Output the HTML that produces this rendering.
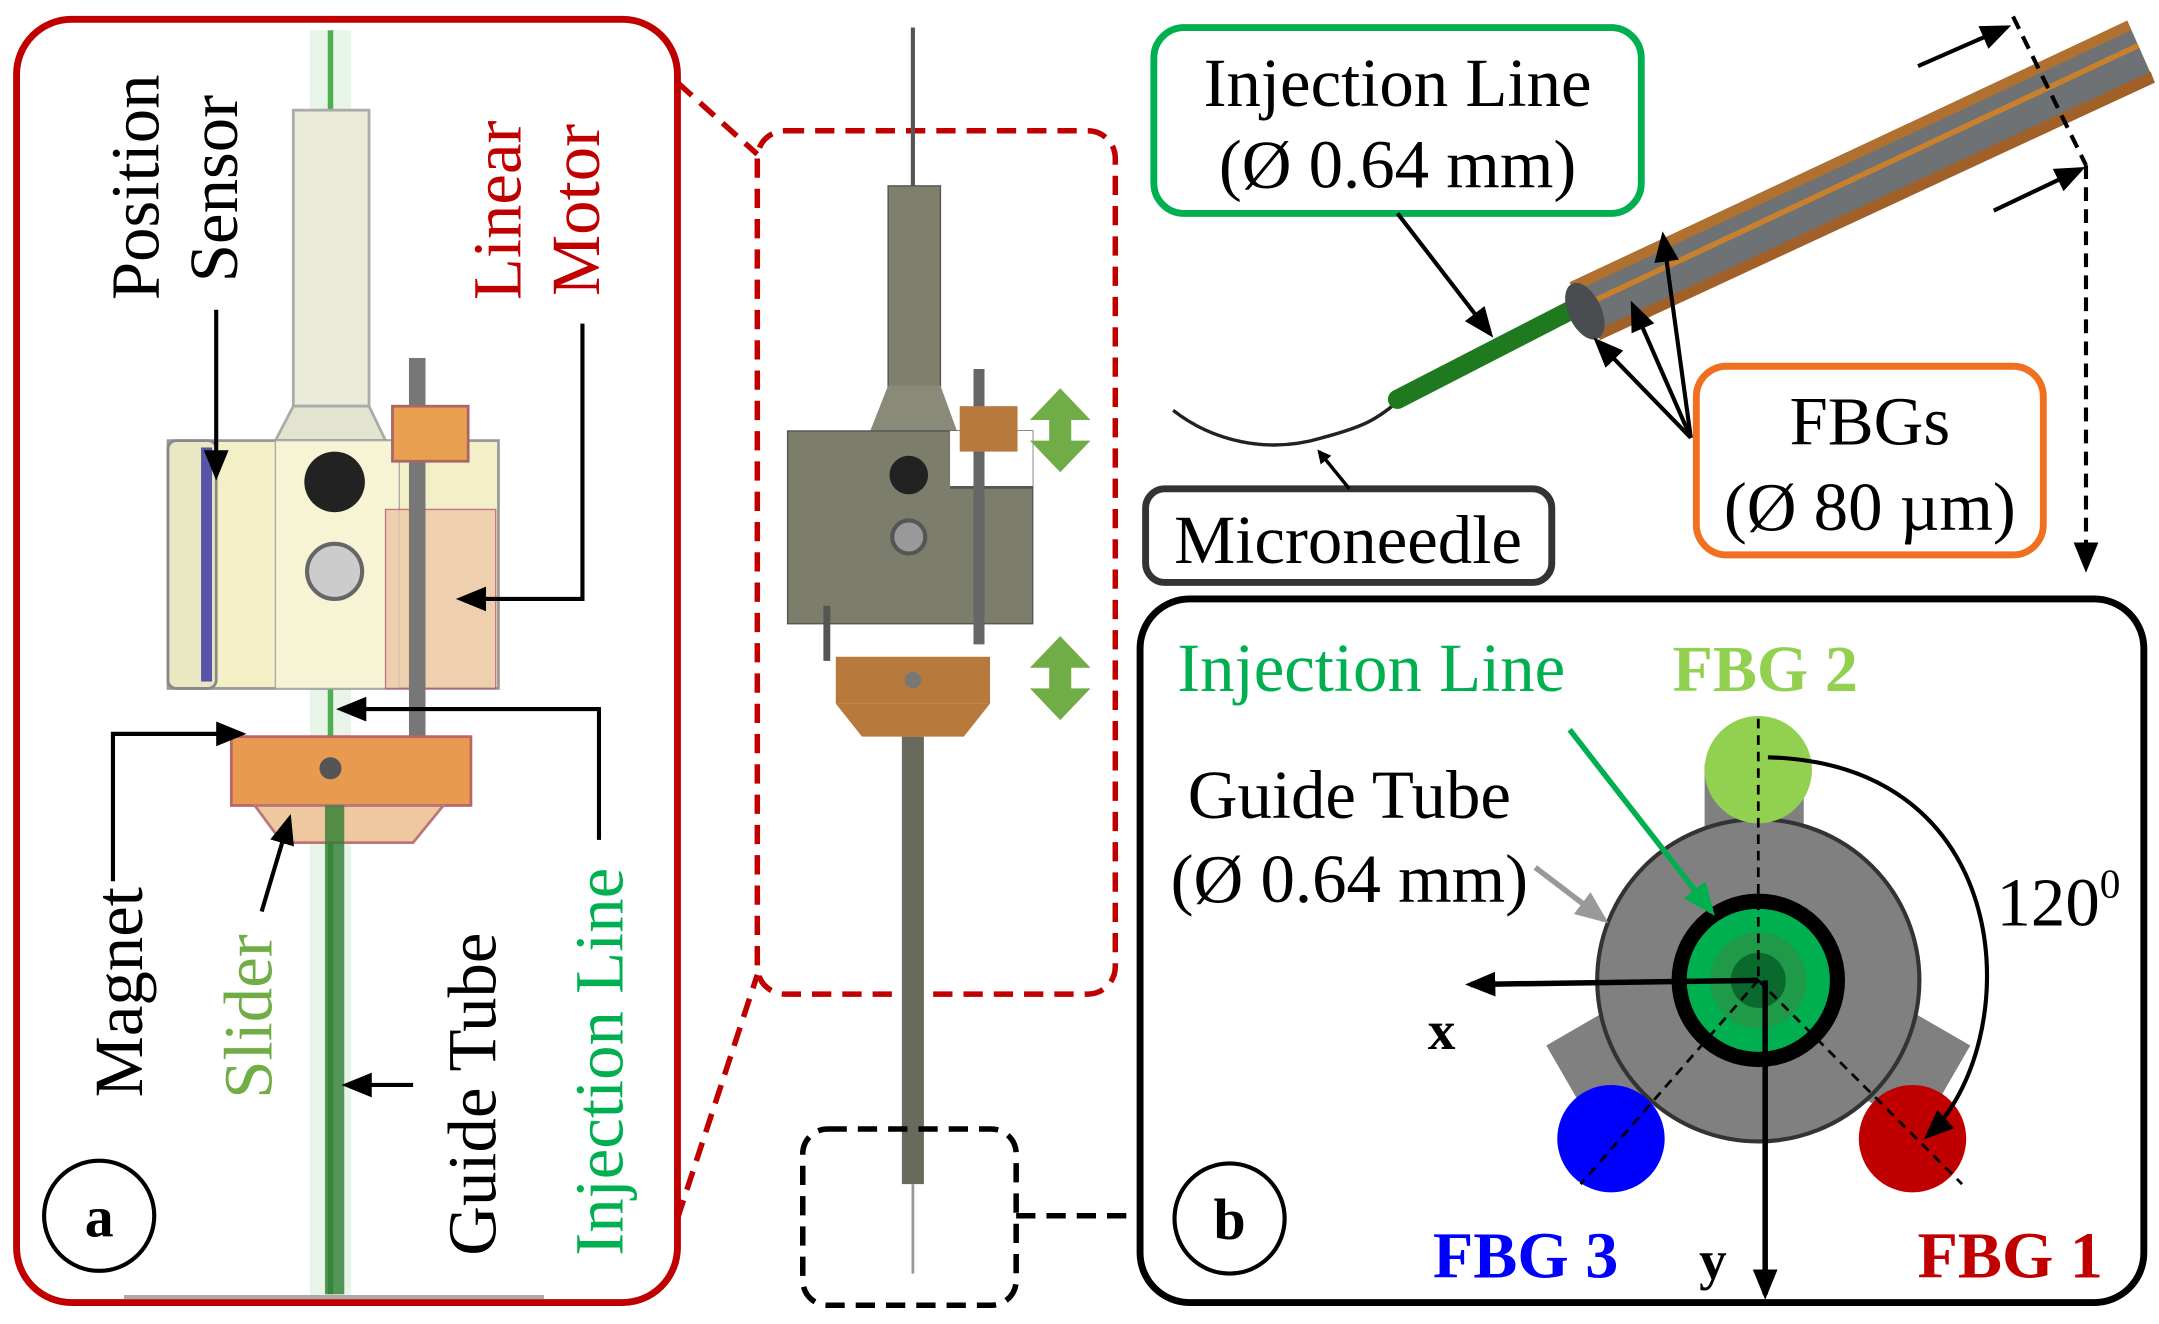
<!DOCTYPE html>
<html><head><meta charset="utf-8">
<style>
html,body{margin:0;padding:0;background:#fff;}
svg{display:block;}
text{font-family:"Liberation Serif",serif;}
</style></head>
<body>
<svg width="2159" height="1324" viewBox="0 0 1568 961.6" xmlns="http://www.w3.org/2000/svg">
<defs>
<marker id="ah" markerWidth="10" markerHeight="10" refX="8" refY="5" orient="auto" markerUnits="userSpaceOnUse" viewBox="0 0 10 10"><path d="M0,0 L10,5 L0,10 z" fill="#000"/></marker>
<marker id="ahb" markerWidth="22" markerHeight="22" refX="18" refY="11" orient="auto" markerUnits="userSpaceOnUse" viewBox="0 0 22 22"><path d="M0,2 L22,11 L0,20 z" fill="#000"/></marker>
<marker id="ahg" markerWidth="24" markerHeight="24" refX="20" refY="12" orient="auto" markerUnits="userSpaceOnUse" viewBox="0 0 24 24"><path d="M0,2 L24,12 L0,22 z" fill="#00b050"/></marker>
<marker id="ahgr" markerWidth="24" markerHeight="24" refX="20" refY="12" orient="auto" markerUnits="userSpaceOnUse" viewBox="0 0 24 24"><path d="M0,2 L24,12 L0,22 z" fill="#999"/></marker>
</defs>
<rect width="1568" height="962" fill="#fff"/>

<!-- Panel a -->
<rect x="12" y="14" width="480" height="932" rx="40" fill="none" stroke="#c00000" stroke-width="5"/>
<rect x="225" y="22" width="30" height="920" fill="#e8f4e8"/>
<line x1="240" y1="22" x2="240" y2="940" stroke="#4caf50" stroke-width="4"/>
<rect x="213" y="80" width="55" height="215" fill="#e9ead8" stroke="#aaa" stroke-width="2"/>
<polygon points="213,295 268,295 280,320 200,320" fill="#e3e4cf" stroke="#aaa" stroke-width="2"/>
<rect x="122" y="320" width="240" height="180" fill="#f3f0c8" stroke="#999" stroke-width="2"/>
<rect x="122" y="320" width="35" height="180" rx="6" fill="#eae8c2" stroke="#888" stroke-width="2"/>
<rect x="146" y="325" width="8" height="170" fill="#5855a8"/>
<rect x="200" y="320" width="90" height="180" fill="#f6f4d4" stroke="#aaa"/>
<circle cx="243" cy="350" r="22" fill="#222"/>
<circle cx="243" cy="415" r="20" fill="#ccc" stroke="#666" stroke-width="3"/>
<rect x="280" y="370" width="80" height="130" fill="#edc8a8" opacity="0.8" stroke="#b57" stroke-width="1"/>
<rect x="297" y="260" width="12" height="280" fill="#777"/>
<rect x="285" y="295" width="55" height="40" fill="#e8a050" stroke="#a66" stroke-width="2"/>
<rect x="168" y="535" width="174" height="50" fill="#e89a50" stroke="#b66" stroke-width="2"/>
<polygon points="185,585 322,585 300,612 205,612" fill="#efc8a0" stroke="#b77" stroke-width="2"/>
<circle cx="240" cy="558" r="8" fill="#555"/>
<rect x="236" y="585" width="14" height="355" fill="#2e7d32" opacity="0.8"/>
<line x1="90" y1="942" x2="395" y2="942" stroke="#aaa" stroke-width="3"/>

<text transform="translate(115,218) rotate(-90)" font-size="50">Position</text>
<text transform="translate(172,205) rotate(-90)" font-size="50">Sensor</text>
<text transform="translate(378,218) rotate(-90)" font-size="50" fill="#c00000">Linear</text>
<text transform="translate(435,215) rotate(-90)" font-size="50" fill="#c00000">Motor</text>
<text transform="translate(103,797) rotate(-90)" font-size="50">Magnet</text>
<text transform="translate(197,798) rotate(-90)" font-size="50" fill="#70ad47">Slider</text>
<text transform="translate(360,912) rotate(-90)" font-size="50">Guide Tube</text>
<text transform="translate(452,912) rotate(-90)" font-size="50" fill="#00b050">Injection Line</text>
<path d="M157,225 V345" fill="none" stroke="#000" stroke-width="3" marker-end="url(#ahb)"/>
<path d="M423,235 V435 H335" fill="none" stroke="#000" stroke-width="3" marker-end="url(#ahb)"/>
<path d="M82,640 V533 H175" fill="none" stroke="#000" stroke-width="3" marker-end="url(#ahb)"/>
<path d="M190,662 L210,595" fill="none" stroke="#000" stroke-width="3" marker-end="url(#ahb)"/>
<path d="M435,610 V515 H248" fill="none" stroke="#000" stroke-width="3" marker-end="url(#ahb)"/>
<path d="M300,788 H252" fill="none" stroke="#000" stroke-width="3" marker-end="url(#ahb)"/>
<circle cx="72" cy="883" r="40" fill="#fff" stroke="#000" stroke-width="3"/>
<text x="72" y="898" font-size="42" font-weight="bold" text-anchor="middle">a</text>

<line x1="492" y1="60" x2="550" y2="112" stroke="#c00000" stroke-width="4" stroke-dasharray="14,8"/>
<line x1="492" y1="885" x2="550" y2="708" stroke="#c00000" stroke-width="4" stroke-dasharray="14,8"/>
<rect x="550" y="95" width="260" height="627" rx="20" fill="none" stroke="#c00000" stroke-width="4" stroke-dasharray="14,8"/>

<line x1="663" y1="20" x2="663" y2="135" stroke="#555" stroke-width="3"/>
<rect x="645" y="135" width="38" height="160" fill="#7f7f6c" stroke="#555"/>
<polygon points="645,280 683,280 695,313 632,313" fill="#8a8a78"/>
<rect x="572" y="313" width="178" height="140" fill="#7c7d6a" stroke="#555"/>
<rect x="690" y="313" width="60" height="40" fill="#fff"/>
<rect x="690" y="353" width="60" height="2" fill="#555"/>
<circle cx="660" cy="345" r="14" fill="#222"/>
<circle cx="660" cy="390" r="12" fill="#999" stroke="#555" stroke-width="3"/>
<rect x="707" y="268" width="8" height="200" fill="#666"/>
<rect x="598" y="440" width="5" height="40" fill="#555"/>
<rect x="697" y="295" width="42" height="33" fill="#b87a3c"/>
<rect x="607" y="477" width="112" height="34" fill="#b87a3c"/>
<polygon points="607,511 719,511 700,535 626,535" fill="#b87a3c"/>
<circle cx="663" cy="494" r="6" fill="#777"/>
<rect x="655" y="535" width="16" height="325" fill="#6a6a5c"/>
<line x1="663" y1="860" x2="663" y2="925" stroke="#999" stroke-width="2"/>
<g fill="#70ad47">
<polygon points="770,282 792,305 778,305 778,320 792,320 770,343 748,320 762,320 762,305 748,305"/>
<polygon points="770,462 792,485 778,485 778,500 792,500 770,523 748,500 762,500 762,485 748,485"/>
</g>
<rect x="583" y="820" width="155" height="128" rx="18" fill="none" stroke="#000" stroke-width="4" stroke-dasharray="14,8"/>
<line x1="738" y1="883" x2="828" y2="883" stroke="#000" stroke-width="4" stroke-dasharray="14,8"/>

<path d="M852,298 C880,320 920,330 960,318 C990,310 1000,305 1017,290" fill="none" stroke="#222" stroke-width="2.5"/>
<line x1="1015" y1="290" x2="1155" y2="218" stroke="#1f7a1f" stroke-width="14" stroke-linecap="round"/>
<polygon points="1140,205 1545,15 1565,60 1162,245" fill="#6e7275"/>
<line x1="1150" y1="222" x2="1553" y2="33" stroke="#c8802c" stroke-width="4"/>
<polygon points="1140,205 1545,15 1548,22 1143,212" fill="#b07030"/>
<polygon points="1159,240 1562,52 1565,60 1162,247" fill="#a06028"/>
<ellipse cx="1151" cy="226" rx="12" ry="22" transform="rotate(-25 1151 226)" fill="#4a4d50"/>
<path d="M1462,12 L1515,120" fill="none" stroke="#000" stroke-width="3" stroke-dasharray="10,6"/>
<path d="M1515,120 V412" fill="none" stroke="#000" stroke-width="3" stroke-dasharray="10,6" marker-end="url(#ahb)"/>
<line x1="1393" y1="48" x2="1457" y2="20" stroke="#000" stroke-width="3" marker-end="url(#ahb)"/>
<line x1="1448" y1="153" x2="1511" y2="123" stroke="#000" stroke-width="3" marker-end="url(#ahb)"/>

<rect x="838" y="20" width="354" height="135" rx="22" fill="#fff" stroke="#00b050" stroke-width="5"/>
<text x="1015" y="77" font-size="50" text-anchor="middle">Injection Line</text>
<text x="1015" y="136" font-size="50" text-anchor="middle">(Ø 0.64 mm)</text>
<line x1="1015" y1="155" x2="1082" y2="242" stroke="#000" stroke-width="3" marker-end="url(#ahb)"/>

<rect x="832" y="355" width="295" height="68" rx="14" fill="#fff" stroke="#333" stroke-width="5"/>
<text x="979" y="409" font-size="50" text-anchor="middle">Microneedle</text>
<line x1="980" y1="355" x2="958" y2="328" stroke="#000" stroke-width="2.5" marker-end="url(#ah)"/>

<rect x="1232" y="266" width="252" height="137" rx="22" fill="#fff" stroke="#f07020" stroke-width="5"/>
<text x="1358" y="323" font-size="50" text-anchor="middle">FBGs</text>
<text x="1358" y="385" font-size="50" text-anchor="middle">(Ø 80 µm)</text>
<g stroke="#000" stroke-width="3" fill="none">
<line x1="1228" y1="318" x2="1160" y2="248" marker-end="url(#ahb)"/>
<line x1="1228" y1="318" x2="1186" y2="222" marker-end="url(#ahb)"/>
<line x1="1228" y1="318" x2="1208" y2="172" marker-end="url(#ahb)"/>
</g>

<rect x="828" y="435" width="729" height="511" rx="36" fill="none" stroke="#000" stroke-width="5"/>
<circle cx="893" cy="885" r="40" fill="#fff" stroke="#000" stroke-width="3"/>
<text x="893" y="900" font-size="42" font-weight="bold" text-anchor="middle">b</text>

<rect x="1238" y="555" width="72" height="60" fill="#808080"/>
<g transform="rotate(120 1277 712)"><rect x="1241" y="555" width="72" height="60" fill="#808080"/></g>
<g transform="rotate(240 1277 712)"><rect x="1241" y="555" width="72" height="60" fill="#808080"/></g>
<circle cx="1277" cy="712" r="117" fill="#808080" stroke="#333" stroke-width="3"/>
<circle cx="1277" cy="712" r="63" fill="#000"/>
<circle cx="1277" cy="712" r="52" fill="#00b050"/>
<circle cx="1277" cy="712" r="35" fill="#1e9a48"/>
<circle cx="1277" cy="712" r="20" fill="#0a6a2e"/>
<circle cx="1277" cy="559" r="39" fill="#92d050"/>
<circle cx="1170" cy="827" r="39" fill="#0000ff"/>
<circle cx="1389" cy="827" r="39" fill="#c00000"/>
<g stroke="#000" stroke-width="2" stroke-dasharray="7,5">
<line x1="1277" y1="522" x2="1277" y2="712"/>
<line x1="1277" y1="712" x2="1148" y2="860"/>
<line x1="1277" y1="712" x2="1425" y2="860"/>
</g>
<line x1="1277" y1="712" x2="1068" y2="715" stroke="#000" stroke-width="4" marker-end="url(#ahb)"/>
<line x1="1282" y1="712" x2="1282" y2="940" stroke="#000" stroke-width="4" marker-end="url(#ahb)"/>
<path d="M1284,550 C1470,555 1470,760 1400,825" fill="none" stroke="#000" stroke-width="3" marker-end="url(#ahb)"/>
<line x1="1140" y1="530" x2="1243" y2="662" stroke="#00b050" stroke-width="4" marker-end="url(#ahg)"/>
<line x1="1115" y1="630" x2="1165" y2="668" stroke="#999" stroke-width="4" marker-end="url(#ahgr)"/>

<text x="855" y="502" font-size="50" fill="#00b050">Injection Line</text>
<text x="1282" y="502" font-size="48" font-weight="bold" fill="#92d050" text-anchor="middle">FBG 2</text>
<text x="980" y="594" font-size="50" text-anchor="middle">Guide Tube</text>
<text x="980" y="655" font-size="50" text-anchor="middle">(Ø 0.64 mm)</text>
<text x="1450" y="672" font-size="50">120<tspan font-size="30" dy="-20">0</tspan></text>
<text x="1047" y="762" font-size="40" font-weight="bold" text-anchor="middle">x</text>
<text x="1244" y="929" font-size="40" font-weight="bold" text-anchor="middle">y</text>
<text x="1108" y="928" font-size="48" font-weight="bold" fill="#0000ff" text-anchor="middle">FBG 3</text>
<text x="1460" y="928" font-size="48" font-weight="bold" fill="#c00000" text-anchor="middle">FBG 1</text>
</svg>
</body></html>
